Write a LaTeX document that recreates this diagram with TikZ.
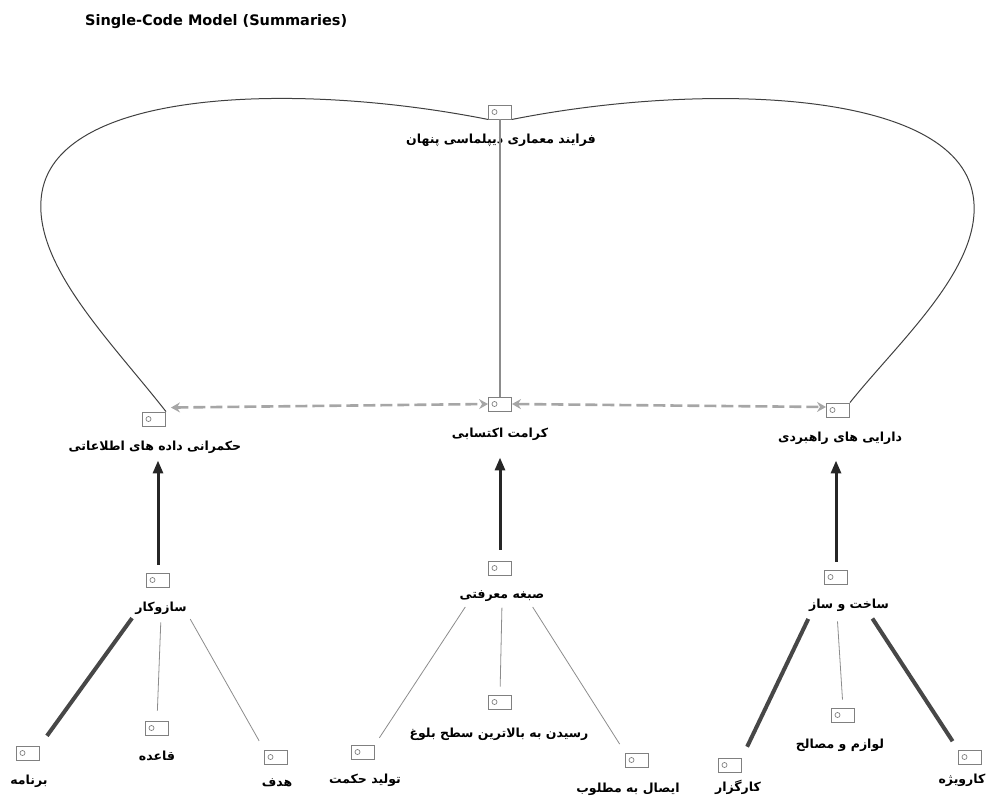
\documentclass[tikz,border=0pt]{standalone}
\usepackage{fontspec}
\setmainfont{DejaVu Sans}
\newfontfamily\fa[Script=Arabic]{DejaVu Sans}
\TeXXeTstate=1
\usetikzlibrary{arrows.meta}
\newcommand\faR[1]{\beginR #1\endR}
\begin{document}
\begin{tikzpicture}[x=1pt,y=-1pt,
  icon/.style={rectangle,draw=black!50,line width=0.9pt,minimum width=23pt,minimum height=14pt,inner sep=0pt,
    path picture={\draw[black!50,line width=0.7pt] ([xshift=6pt]path picture bounding box.west) circle (2.5pt);}},
  lab/.style={font=\fa\bfseries\fontsize{12.5}{14}\selectfont,inner sep=2pt},
  curve/.style={draw=black!75,line width=1pt},
  vline/.style={draw=black!45,line width=1.3pt},
  dasharrow/.style={draw=black!35,line width=2.6pt,dash pattern=on 12pt off 5pt,
    {Stealth[length=9pt,width=10pt,inset=3pt]}-{Stealth[length=9pt,width=10pt,inset=3pt]}},
  uparrow/.style={draw=black!85,line width=3pt,-{Triangle[length=13pt,width=10pt]}},
  thickline/.style={draw=black!72,line width=4pt},
  thinline/.style={draw=black!45,line width=0.8pt}
]
\useasboundingbox (0,0) rectangle (996,801);
\node[font=\bfseries\fontsize{14.5}{16}\selectfont,anchor=west,inner sep=0pt] (title) at (85,22) {Single-Code Model (Summaries)};

% icons
\node[icon] (top) at (500,112) {};
\node[icon] (L1) at (154,419) {};
\node[icon] (M1) at (500,404) {};
\node[icon] (R1) at (838,410) {};
\node[icon] (L2) at (158,580) {};
\node[icon] (M2) at (500,568) {};
\node[icon] (R2) at (836,577) {};
\node[icon] (a1) at (28,753) {};
\node[icon] (a2) at (157,728) {};
\node[icon] (a3) at (276,757) {};
\node[icon] (b1) at (363,752) {};
\node[icon] (b2) at (500,702) {};
\node[icon] (b3) at (637,760) {};
\node[icon] (c1) at (730,765) {};
\node[icon] (c2) at (843,715) {};
\node[icon] (c3) at (970,757) {};

% labels
\node[lab] (toplab) at (501,140) {\faR{فرایند معماری دیپلماسی پنهان}};
\node[lab] (L1lab) at (155,447) {\faR{حکمرانی داده های اطلاعاتی}};
\node[lab] (M1lab) at (500,434) {\faR{کرامت اکتسابی}};
\node[lab] (R1lab) at (840,438) {\faR{دارایی های راهبردی}};
\node[lab] (L2lab) at (161,608) {\faR{سازوکار}};
\node[lab] (M2lab) at (502,596) {\faR{صبغه معرفتی}};
\node[lab] (R2lab) at (849,605) {\faR{ساخت و ساز}};
\node[lab] (a1lab) at (29,781) {\faR{برنامه}};
\node[lab] (a2lab) at (157,756) {\faR{قاعده}};
\node[lab] (a3lab) at (277,783) {\faR{هدف}};
\node[lab] (b1lab) at (365,780) {\faR{تولید حکمت}};
\node[lab] (b2lab) at (499,734) {\faR{رسیدن به بالاترین سطح بلوغ}};
\node[lab] (b3lab) at (628,789) {\faR{ایصال به مطلوب}};
\node[lab] (c1lab) at (738,787) {\faR{کارگزار}};
\node[lab] (c2lab) at (840,745) {\faR{لوازم و مصالح}};
\node[lab] (c3lab) at (962,780) {\faR{کارویژه}};

% big loop
\draw[curve] (top.south west) .. controls (300,82) and (60,88) .. (42,192)
  .. controls (30,262) and (110,340) .. (L1.north east);
\draw[curve] (top.south east) .. controls (700,82) and (955,88) .. (973,195)
  .. controls (985,265) and (900,340) .. (R1.north east);
\draw[vline] (top.south) -- (M1.north);

% dashed double arrows
\draw[dasharrow] ([xshift=5pt,yshift=4pt]L1.north east) -- (M1.west);
\draw[dasharrow] (M1.east) -- ([yshift=3pt]R1.west);

% up arrows
\draw[uparrow,shorten <=8pt,shorten >=5pt] (L2.north) -- (L2.north |- L1lab.south);
\draw[uparrow,shorten <=11pt,shorten >=15pt] (M2.north) -- (M2.north |- M1lab.south);
\draw[uparrow,shorten <=8pt,shorten >=14pt] (R2.north) -- (R2.north |- R1lab.south);

% leaf connectors
\draw[thickline,shorten <=2pt,shorten >=12pt] (L2lab.south west) -- (a1.north east);
\draw[thinline,shorten <=6pt,shorten >=10pt] (L2lab.south) -- (a2.north);
\draw[thinline,shorten <=3pt,shorten >=10pt] (L2lab.south east) -- (a3.north west);

\draw[thinline,shorten <=4pt,shorten >=8pt] ([xshift=10pt]M2lab.south west) -- (b1.north east);
\draw[thinline,shorten <=4pt,shorten >=8pt] (M2lab.south) -- (b2.north);
\draw[thinline,shorten <=4pt,shorten >=10pt] ([xshift=-16pt]M2lab.south east) -- (b3.north west);

\draw[thickline,shorten <=6pt,shorten >=12pt] ([xshift=4pt]R2lab.south west) -- (c1.north east);
\draw[thinline,shorten <=8pt,shorten >=8pt] ([xshift=-12pt]R2lab.south) -- (c2.north);
\draw[thickline,shorten <=6pt,shorten >=10pt] ([xshift=-22pt]R2lab.south east) -- (c3.north west);
\end{tikzpicture}
\end{document}
